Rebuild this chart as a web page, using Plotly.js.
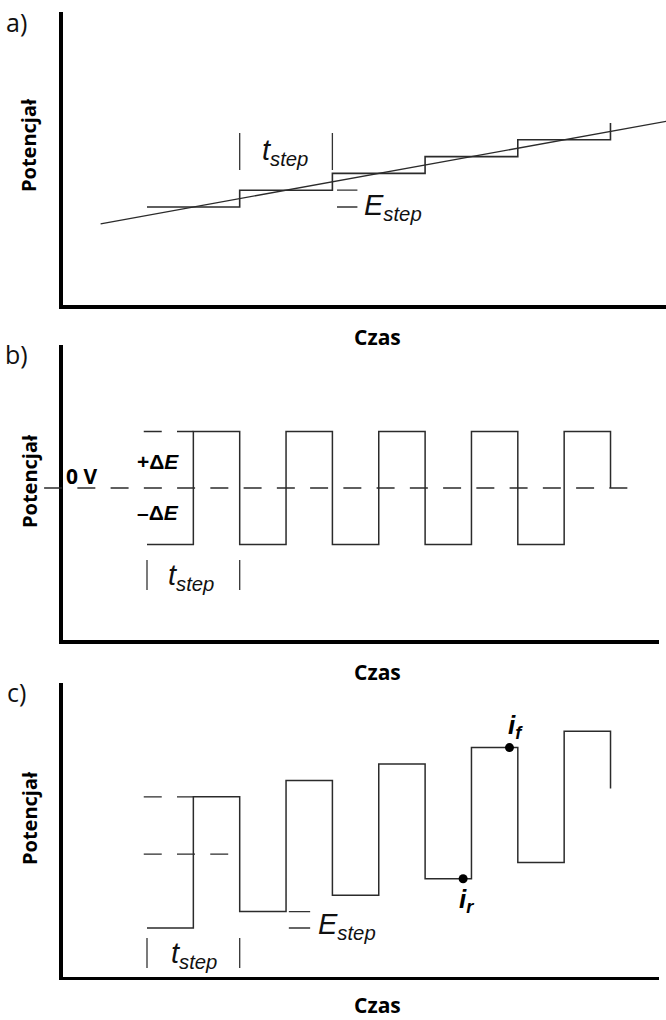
<!DOCTYPE html>
<html>
<head>
<meta charset="utf-8">
<script src="https://cdn.plot.ly/plotly-3.0.1.min.js"></script>
<style>
  html, body { margin: 0; padding: 0; background: #fff; }
  #chart { width: 666px; height: 1020px; }
</style>
</head>
<body>
<div id="chart"></div>
<script>
// ---------- data (time in units of t_step) ----------
// a) staircase + linear ramp (potential in units of E_step)
const stairT = [1, 2, 2, 3, 3, 4, 4, 5, 5, 6, 6];
const stairE = [1, 1, 2, 2, 3, 3, 4, 4, 5, 5, 6];
const rampT = [0.5, 6.6];
const rampE = [0, 6.1];

// b) square wave (potential in units of ΔE)
const squareT = [1, 1.5, 1.5, 2, 2, 2.5, 2.5, 3, 3, 3.5, 3.5, 4, 4, 4.5, 4.5, 5, 5, 5.5, 5.5, 6, 6];
const squareV = [-1, -1, 1, 1, -1, -1, 1, 1, -1, -1, 1, 1, -1, -1, 1, 1, -1, -1, 1, 1, 0];
const zeroLineT = [-0.11, 6.26];
const topRefT = [0.965, 1.5];

// c) square-wave voltammetry waveform (potential in units of E_step)
const swvT = [1, 1.5, 1.5, 2, 2, 2.5, 2.5, 3, 3, 3.5, 3.5, 4, 4, 4.5, 4.5, 5, 5, 5.5, 5.5, 6, 6];
const swvE = [0, 0, 8, 8, 1, 1, 9, 9, 2, 2, 10, 10, 3, 3, 11, 11, 4, 4, 12, 12, 8.5];
const swvTopRefT = [0.965, 1.5];
const swvTopRefE = [8, 8];
const swvMidRefT = [0.965, 1.876];
const swvMidRefE = [4.5, 4.5];
const samplePtsT = [4.41, 4.91];
const samplePtsE = [3, 11];
const sampleLabels = ['<b><i>i<sub>r</sub></i></b>', '<b><i>i<sub>f</sub></i></b>'];

const panelLabels = ['a)', 'b)', 'c)'];
const yTitle = 'Potencjał';
const xTitle = 'Czas';

// ---------- layout helpers ----------
const W = 666, H = 1020;
const xDomA = [62.5 / W, 1];
const xDomBC = [62.5 / W, 659 / W];
const xRangeA = [0.0885, 6.599];
const xRangeBC = [0.0885, 6.523];
const yDomA = [(H - 305) / H, (H - 12) / H];
const yDomB = [(H - 640) / H, (H - 345) / H];
const yDomC = [(H - 976.5) / H, (H - 683) / H];
const yRangeA = [-4.833, 12.607];
const yRangeB = [-2.690, 2.531];
const yRangeC = [-2.957, 14.939];

function toPaperX(t, range, dom) {
  return dom[0] + (t - range[0]) / (range[1] - range[0]) * (dom[1] - dom[0]);
}

const lineCol = '#2b2b2b';
const dashPat = '18px,15.25px';
const labelFont = { family: 'Liberation Sans, Arial, sans-serif', size: 29, color: '#111' };

const traces = [
  // a
  { x: rampT, y: rampE, xaxis: 'x', yaxis: 'y', mode: 'lines', line: { color: lineCol, width: 1.3 } },
  { x: stairT, y: stairE, xaxis: 'x', yaxis: 'y', mode: 'lines', line: { color: lineCol, width: 1.6 } },
  // b
  { x: topRefT, y: [1, 1], xaxis: 'x2', yaxis: 'y2', mode: 'lines', line: { color: lineCol, width: 1.3, dash: dashPat } },
  { x: squareT, y: squareV, xaxis: 'x2', yaxis: 'y2', mode: 'lines', line: { color: lineCol, width: 1.5 } },
  // c
  { x: swvTopRefT, y: swvTopRefE, xaxis: 'x3', yaxis: 'y3', mode: 'lines', line: { color: lineCol, width: 1.3, dash: dashPat } },
  { x: swvMidRefT, y: swvMidRefE, xaxis: 'x3', yaxis: 'y3', mode: 'lines', line: { color: lineCol, width: 1.3, dash: dashPat } },
  { x: swvT, y: swvE, xaxis: 'x3', yaxis: 'y3', mode: 'lines', line: { color: lineCol, width: 1.5 } },
  { x: samplePtsT, y: samplePtsE, xaxis: 'x3', yaxis: 'y3', mode: 'markers', marker: { color: '#000', size: 9 } }
];

function axisBase(extra) {
  return Object.assign({
    showline: true, linecolor: '#000', linewidth: 3.5, mirror: false,
    showgrid: false, zeroline: false, showticklabels: false, ticks: '',
    fixedrange: true
  }, extra);
}

const shapes = [];
function vtick(xref, yref, x, y0, y1) {
  shapes.push({ type: 'line', xref: xref, yref: yref, x0: x, x1: x, y0: y0, y1: y1,
    line: { color: '#333', width: 1.3 } });
}
function hmark(xref, yref, x0, x1, y) {
  shapes.push({ type: 'line', xref: xref, yref: yref, x0: x0, x1: x1, y0: y, y1: y,
    line: { color: '#333', width: 1.3 } });
}
// a) t_step and E_step markers
vtick('x', 'y', 2, 3.2, 5.4);
vtick('x', 'y', 3, 3.2, 5.4);
hmark('x', 'y', 3.05, 3.27, 2);
hmark('x', 'y', 3.05, 3.27, 1);
// b) zero line and t_step markers
shapes.push({ type: 'line', xref: 'paper', yref: 'y2',
  x0: toPaperX(zeroLineT[0], xRangeBC, xDomBC), x1: toPaperX(zeroLineT[1], xRangeBC, xDomBC),
  y0: 0, y1: 0, line: { color: lineCol, width: 1.3, dash: dashPat } });
vtick('x2', 'y2', 1, -1.274, -1.805);
vtick('x2', 'y2', 2, -1.274, -1.805);
// c) E_step and t_step markers
hmark('x3', 'y3', 2.53, 2.76, 1);
hmark('x3', 'y3', 2.53, 2.76, 0);
vtick('x3', 'y3', 1, -0.61, -2.44);
vtick('x3', 'y3', 2, -0.61, -2.44);

const annotations = [];
const panelLabelY = [22, 354, 692];
const yTitleY = [145, 481, 818];
const xTitleY = [337.5, 672, 1005];
for (let i = 0; i < 3; i++) {
  annotations.push({ xref: 'paper', yref: 'paper', x: 16 / W, y: 1 - panelLabelY[i] / H,
    text: panelLabels[i], showarrow: false, xanchor: 'center', yanchor: 'middle',
    font: { family: 'Open Sans, sans-serif', size: 25, color: '#111' } });
  annotations.push({ xref: 'paper', yref: 'paper', x: 29 / W, y: 1 - yTitleY[i] / H,
    text: '<b>' + yTitle + '</b>', showarrow: false, textangle: -90, xanchor: 'center', yanchor: 'middle',
    font: { family: 'Open Sans, sans-serif', size: 20, color: '#000' } });
  annotations.push({ xref: 'paper', yref: 'paper', x: 377.5 / W, y: 1 - xTitleY[i] / H,
    text: '<b>' + xTitle + '</b>', showarrow: false, xanchor: 'center', yanchor: 'middle',
    font: { family: 'Open Sans, sans-serif', size: 21, color: '#000' } });
}
// a) labels
annotations.push({ xref: 'x', yref: 'y', x: 2.49, y: 4.3, text: '<i>t<sub>step</sub></i>',
  showarrow: false, xanchor: 'center', yanchor: 'middle', font: labelFont });
annotations.push({ xref: 'x', yref: 'y', x: 3.32, y: 1.0, text: '<i>E<sub>step</sub></i>',
  showarrow: false, xanchor: 'left', yanchor: 'middle', font: labelFont });
// b) labels
annotations.push({ xref: 'x2', yref: 'y2', x: 0.11, y: 0.22, text: '<b>0 V</b>',
  showarrow: false, xanchor: 'left', yanchor: 'middle',
  font: { family: 'Open Sans, sans-serif', size: 21, color: '#000' } });
annotations.push({ xref: 'x2', yref: 'y2', x: 1.124, y: 0.47, text: '<b>+Δ<i>E</i></b>',
  showarrow: false, xanchor: 'center', yanchor: 'middle',
  font: { family: 'Liberation Sans, Arial, sans-serif', size: 21, color: '#000' } });
annotations.push({ xref: 'x2', yref: 'y2', x: 1.115, y: -0.434, text: '<b>–Δ<i>E</i></b>',
  showarrow: false, xanchor: 'center', yanchor: 'middle',
  font: { family: 'Liberation Sans, Arial, sans-serif', size: 21, color: '#000' } });
annotations.push({ xref: 'x2', yref: 'y2', x: 1.475, y: -1.575, text: '<i>t<sub>step</sub></i>',
  showarrow: false, xanchor: 'center', yanchor: 'middle', font: labelFont });
// c) labels
annotations.push({ xref: 'x3', yref: 'y3', x: 2.82, y: 0.1, text: '<i>E<sub>step</sub></i>',
  showarrow: false, xanchor: 'left', yanchor: 'middle', font: labelFont });
annotations.push({ xref: 'x3', yref: 'y3', x: 1.507, y: -1.65, text: '<i>t<sub>step</sub></i>',
  showarrow: false, xanchor: 'center', yanchor: 'middle', font: labelFont });
const ptLabelOffsets = [[0.04, 1.7 - 3], [0.07, 12.26 - 11]];
for (let i = 0; i < samplePtsT.length; i++) {
  annotations.push({ xref: 'x3', yref: 'y3', x: samplePtsT[i] + ptLabelOffsets[i][0], y: samplePtsE[i] + ptLabelOffsets[i][1],
    text: sampleLabels[i], showarrow: false, xanchor: 'center', yanchor: 'middle',
    font: { family: 'Liberation Sans, Arial, sans-serif', size: 26, color: '#000' } });
}

const layout = {
  width: W, height: H,
  margin: { l: 0, r: 0, t: 0, b: 0, pad: 0 },
  paper_bgcolor: '#fff', plot_bgcolor: 'rgba(0,0,0,0)',
  showlegend: false,
  xaxis: axisBase({ domain: xDomA, range: xRangeA, anchor: 'y' }),
  yaxis: axisBase({ domain: yDomA, range: yRangeA, anchor: 'x' }),
  xaxis2: axisBase({ domain: xDomBC, range: xRangeBC, anchor: 'y2' }),
  yaxis2: axisBase({ domain: yDomB, range: yRangeB, anchor: 'x2' }),
  xaxis3: axisBase({ domain: xDomBC, range: xRangeBC, anchor: 'y3' }),
  yaxis3: axisBase({ domain: yDomC, range: yRangeC, anchor: 'x3' }),
  shapes: shapes,
  annotations: annotations
};

Plotly.newPlot('chart', traces, layout, { staticPlot: true, displayModeBar: false });
</script>
</body>
</html>
